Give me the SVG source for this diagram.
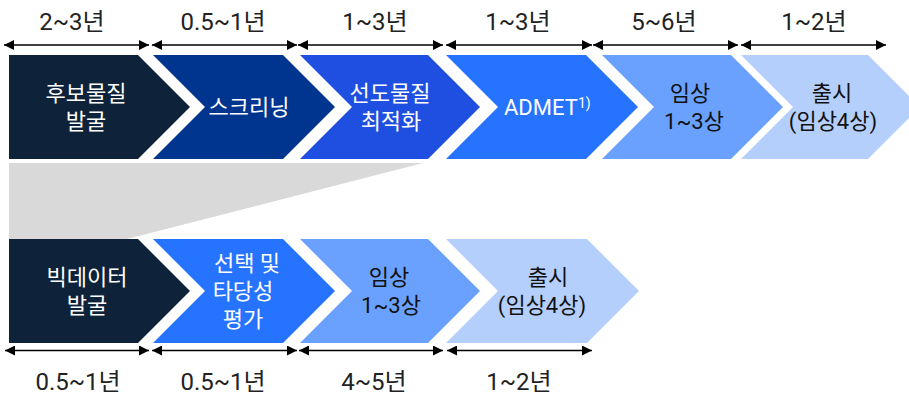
<svg xmlns="http://www.w3.org/2000/svg" width="909" height="395" viewBox="0 0 909 395">
  <defs>
    <marker id="ah" viewBox="0 0 10 10" refX="10" refY="5" markerWidth="10" markerHeight="10" markerUnits="userSpaceOnUse" orient="auto-start-reverse">
      <path d="M0,0 L10,5 L0,10 z" fill="#000"/>
    </marker>
    <style>
      text { font-family: Roboto, "Noto Sans CJK KR", sans-serif; }
      .dur { font-size: 24px; fill: #222; text-anchor: middle; }
      .w { font-size: 22px; fill: #fff; text-anchor: middle; }
      .d { font-size: 22px; fill: #111; text-anchor: middle; }
      .arr { stroke: #000; stroke-width: 1.5; fill: none; marker-start: url(#ah); marker-end: url(#ah); }
    </style>
  </defs>
  <rect width="909" height="395" fill="#fff"/>

  <polygon id="funnel" points="9,163 423,163 127,239 9,239" fill="#d9d9d9"/>

  <g id="connectors">
    <line class="arr" x1="4" y1="45" x2="149" y2="45"/>
    <line class="arr" x1="152" y1="45" x2="297" y2="45"/>
    <line class="arr" x1="298" y1="45" x2="443" y2="45"/>
    <line class="arr" x1="446" y1="45" x2="592" y2="45"/>
    <line class="arr" x1="593" y1="45" x2="738" y2="45"/>
    <line class="arr" x1="741" y1="45" x2="886" y2="45"/>
    <line class="arr" x1="5" y1="350.5" x2="149" y2="350.5"/>
    <line class="arr" x1="152" y1="350.5" x2="297" y2="350.5"/>
    <line class="arr" x1="299" y1="350.5" x2="443" y2="350.5"/>
    <line class="arr" x1="447" y1="350.5" x2="592" y2="350.5"/>
  </g>

  <g id="durations">
    <text class="dur" x="72" y="30">2~3년</text>
    <text class="dur" x="223" y="30">0.5~1년</text>
    <text class="dur" x="375" y="30">1~3년</text>
    <text class="dur" x="518" y="30">1~3년</text>
    <text class="dur" x="664" y="30">5~6년</text>
    <text class="dur" x="814" y="30">1~2년</text>
    <text class="dur" x="78" y="390">0.5~1년</text>
    <text class="dur" x="223" y="390">0.5~1년</text>
    <text class="dur" x="374" y="390">4~5년</text>
    <text class="dur" x="519" y="390">1~2년</text>
  </g>

  <g id="t1">
    <polygon points="9,55 138,55 190,107 138,159 9,159" fill="#0e2339"/>
    <text class="w" x="86" y="101">후보물질</text>
    <text class="w" x="86" y="129">발굴</text>
  </g>
  <g id="t2">
    <polygon points="153,55 283,55 335,107 283,159 153,159 205,107" fill="#00358f"/>
    <text class="w" x="249" y="115">스크리닝</text>
  </g>
  <g id="t3">
    <polygon points="300,55 428,55 480,107 428,159 300,159 352,107" fill="#1f4fe0"/>
    <text class="w" x="390" y="101">선도물질</text>
    <text class="w" x="391" y="129">최적화</text>
  </g>
  <g id="t4">
    <polygon points="446,55 586,55 638,107 586,159 446,159 498,107" fill="#2673ff"/>
    <text style="font-size:22px;fill:#fff" x="504" y="115">ADMET</text>
    <text style="font-size:14px;fill:#fff" x="578" y="108">1)</text>
  </g>
  <g id="t5">
    <polygon points="602,55 731,55 783,107 731,159 602,159 654,107" fill="#6aa1ff"/>
    <text class="d" x="690" y="101">임상</text>
    <text class="d" x="694" y="129">1~3상</text>
  </g>
  <g id="t6">
    <polygon points="741,55 868,55 920,107 868,159 741,159 793,107" fill="#b5cffd"/>
    <text class="d" x="832" y="101">출시</text>
    <text class="d" x="833" y="129">(임상4상)</text>
  </g>

  <g id="b1">
    <polygon points="9,239 138,239 190,291 138,343 9,343" fill="#0e2339"/>
    <text class="w" x="87" y="285">빅데이터</text>
    <text class="w" x="87" y="313">발굴</text>
  </g>
  <g id="b2">
    <polygon points="153,239 283,239 335,291 283,343 153,343 205,291" fill="#2673ff"/>
    <text class="w" x="247" y="271">선택 및</text>
    <text class="w" x="243" y="299">타당성</text>
    <text class="w" x="243" y="327">평가</text>
  </g>
  <g id="b3">
    <polygon points="300,239 428,239 480,291 428,343 300,343 352,291" fill="#6aa1ff"/>
    <text class="d" x="389" y="285">임상</text>
    <text class="d" x="391" y="313">1~3상</text>
  </g>
  <g id="b4">
    <polygon points="446,239 587,239 639,291 587,343 446,343 498,291" fill="#b5cffd"/>
    <text class="d" x="548" y="285">출시</text>
    <text class="d" x="542" y="313">(임상4상)</text>
  </g>
</svg>
